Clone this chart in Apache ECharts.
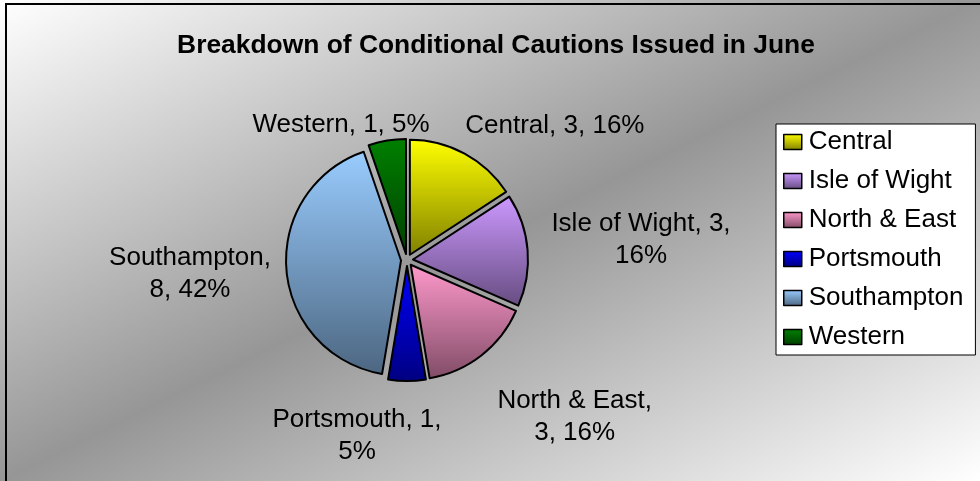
<!DOCTYPE html>
<html>
<head>
<meta charset="utf-8">
<script src="https://cdn.jsdelivr.net/npm/echarts@6/dist/echarts.min.js"></script>
<style>
    html, body { margin: 0; padding: 0; }
    #chart {
        width: 980px;
        height: 481px;
        background: linear-gradient(to bottom right, #ffffff 0%, #969696 50%, #ffffff 100%);
    }
</style>
</head>
<body>
<div id="chart"></div>
<script>
// datos del gráfico
const categories = ['Central', 'Isle of Wight', 'North & East', 'Portsmouth', 'Southampton', 'Western'];
const values = [3, 3, 3, 1, 8, 1];
const topColors = ['#FFFF00', '#CC99FF', '#FF99CC', '#0000FF', '#99CCFF', '#008000'];
const bottomColors = ['#808000', '#664C80', '#804C66', '#000080', '#4C6680', '#004000'];
// 0 = una línea, 1 = salto tras el nombre, 2 = salto tras el valor
const labelWrap = [0, 2, 1, 2, 1, 0];

// posiciones de las etiquetas (centro del texto)
const labelCenters = [[552, 131], [635, 240], [571, 412], [357, 430], [196, 273], [342, 131]];

const FONT = 'Liberation Sans, Arial, sans-serif';
const total = values.reduce((a, b) => a + b, 0);

function shade(i) {
    return new echarts.graphic.LinearGradient(0, 0, 0, 1, [
        { offset: 0, color: topColors[i] },
        { offset: 1, color: bottomColors[i] }
    ]);
}

const pieData = categories.map((name, i) => ({
    name: name,
    value: values[i],
    selected: true,
    itemStyle: { color: shade(i) }
}));

const legendData = categories.map((name, i) => ({
    name: name,
    itemStyle: { color: shade(i), borderColor: '#000', borderWidth: 1.5 }
}));

const myChart = echarts.init(document.getElementById('chart'));

myChart.setOption({
    animation: false,
    backgroundColor: 'transparent',
    title: {
        text: 'Breakdown of Conditional Cautions Issued in June',
        left: 496,
        top: 33,
        textAlign: 'center',
        padding: 0,
        textStyle: { fontFamily: FONT, fontSize: 26.4, fontWeight: 'bold', color: '#000', lineHeight: 26 }
    },
    legend: {
        orient: 'vertical',
        left: 776,
        top: 124,
        padding: [3, 12, 3, 7],
        itemGap: 9,
        itemWidth: 18,
        itemHeight: 15,
        backgroundColor: '#fff',
        borderColor: '#000',
        borderWidth: 1,
        borderRadius: 0,
        icon: 'rect',
        selectedMode: false,
        textStyle: { fontFamily: FONT, fontSize: 26, color: '#000', lineHeight: 30, padding: [0, 0, 0, 2] },
        data: legendData
    },
    graphic: [{
        type: 'rect',
        silent: true,
        shape: { x: 6, y: 4, width: 1000, height: 1000 },
        style: { fill: 'none', stroke: '#000', lineWidth: 2 }
    }],
    series: [{
        type: 'pie',
        center: [407, 260],
        radius: 115,
        startAngle: 90,
        clockwise: true,
        selectedMode: 'multiple',
        selectedOffset: 6,
        emphasis: { disabled: true },
        itemStyle: { borderColor: '#000', borderWidth: 2 },
        label: {
            show: true,
            position: 'outside',
            fontFamily: FONT,
            fontSize: 26,
            lineHeight: 32,
            color: '#000',
            formatter: function (p) {
                const pct = Math.round(p.value / total * 100) + '%';
                const w = labelWrap[p.dataIndex];
                if (w === 1) return p.name + ',\n' + p.value + ', ' + pct;
                if (w === 2) return p.name + ', ' + p.value + ',\n' + pct;
                return p.name + ', ' + p.value + ', ' + pct;
            }
        },
        labelLine: { show: false },
        labelLayout: function (params) {
            // centrar cada etiqueta en la posición deseada
            const c = labelCenters[params.dataIndex];
            const r = params.labelRect;
            let anchorX = r.x + r.width / 2;
            if (params.align === 'left') anchorX = r.x;
            if (params.align === 'right') anchorX = r.x + r.width;
            return {
                align: 'center',
                dx: c[0] - anchorX,
                dy: c[1] - (r.y + r.height / 2)
            };
        },
        data: pieData
    }]
});
</script>
</body>
</html>
